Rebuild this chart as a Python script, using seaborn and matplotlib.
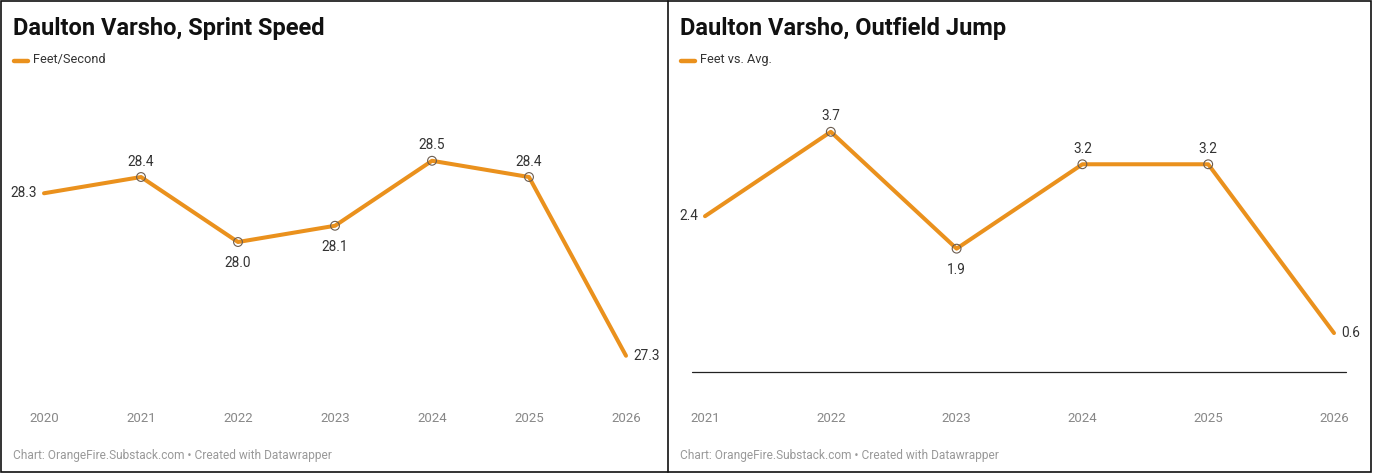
import matplotlib
matplotlib.use("Agg")
import matplotlib.pyplot as plt
import seaborn as sns
from matplotlib.patches import Rectangle
from matplotlib.lines import Line2D

# data
sprint_years = [2020, 2021, 2022, 2023, 2024, 2025, 2026]
sprint_speed = [28.3, 28.4, 28.0, 28.1, 28.5, 28.4, 27.3]

jump_years = [2021, 2022, 2023, 2024, 2025, 2026]
jump_feet = [2.4, 3.7, 1.9, 3.2, 3.2, 0.6]

titles = ["Daulton Varsho, Sprint Speed", "Daulton Varsho, Outfield Jump"]
legend_labels = ["Feet/Second", "Feet vs. Avg."]
footer = "Chart: OrangeFire.Substack.com \u2022 Created with Datawrapper"

ORANGE = "#EA911D"
W, H = 1373, 475

sns.set_style("white")
plt.rcParams["font.family"] = ["Roboto", "DejaVu Sans"]


def px_axes(fig, left, top, right, bottom):
    # axes placed by pixel edges
    return fig.add_axes([left / W, 1 - bottom / H, (right - left) / W, (bottom - top) / H])


def draw_panel(ax, years, values, ylim, label):
    sns.lineplot(x=years, y=values, ax=ax, color=ORANGE, linewidth=2.9,
                 solid_capstyle="round", label=label, legend=False)
    for ln in ax.lines:
        ln.set_clip_on(False)
    # hollow markers on inner points
    ax.scatter(years[1:-1], values[1:-1], s=40, facecolors="none",
               edgecolors="#6a5c50", linewidths=0.8, zorder=3, clip_on=False)
    ax.set_xlim(years[0], years[-1])
    ax.set_ylim(*ylim)
    ax.set_xticks(years)
    ax.set_xticklabels([str(y) for y in years])
    ax.set_yticks([])
    ax.tick_params(axis="x", length=0, pad=29, labelsize=9.5, labelcolor="#888888")
    for s in ax.spines.values():
        s.set_visible(False)
    ax.patch.set_alpha(0)

    n = len(values)
    kw = dict(textcoords="offset points", fontsize=9.8, color="#333333")
    for i, (x, v) in enumerate(zip(years, values)):
        txt = f"{v:.1f}"
        if i == 0:
            ax.annotate(txt, (x, v), xytext=(-5, 0), ha="right", va="center", **kw)
        elif i == n - 1:
            ax.annotate(txt, (x, v), xytext=(5, 0), ha="left", va="center", **kw)
        else:
            mid = (values[i - 1] + values[i + 1]) / 2
            if v >= mid:
                ax.annotate(txt, (x, v), xytext=(0, 6), ha="center", va="bottom", **kw)
            else:
                ax.annotate(txt, (x, v), xytext=(0, -10), ha="center", va="top", **kw)


fig = plt.figure(figsize=(W / 100, H / 100), dpi=100)
fig.patch.set_facecolor("white")

ax1 = px_axes(fig, 44, 100, 626, 372)
draw_panel(ax1, sprint_years, sprint_speed, (27.2, 28.874), legend_labels[0])

ax2 = px_axes(fig, 705, 100, 1334, 372)
draw_panel(ax2, jump_years, jump_feet, (0, 4.19), legend_labels[1])
ax2.axhline(0, xmin=-0.021, xmax=1.019, color="#222222", linewidth=0.9,
            clip_on=False, zorder=1)

# titles, legends, footers
for x0, title, lab in [(13, titles[0], legend_labels[0]), (680, titles[1], legend_labels[1])]:
    fig.text(x0 / W, 1 - 28 / H, title, fontsize=17, fontweight="bold",
             color="#111111", ha="left", va="center")
    fig.add_artist(Line2D([(x0 + 1) / W, (x0 + 15) / W], [1 - 61 / H, 1 - 61 / H],
                          color=ORANGE, linewidth=3.2, solid_capstyle="round"))
    fig.text((x0 + 20) / W, 1 - 60 / H, lab, fontsize=9.2, color="#333333",
             ha="left", va="center")
    fig.text(x0 / W, 1 - 455 / H, footer, fontsize=8.6, color="#999999",
             ha="left", va="center")

# outer frame and divider
fig.add_artist(Rectangle((1 / W, 3 / H), 1370 / W, 471 / H, fill=False,
                         edgecolor="#111111", linewidth=1.2, transform=fig.transFigure))
fig.add_artist(Line2D([668 / W, 668 / W], [3 / H, 1 - 1 / H], color="#111111",
                      linewidth=1.2))

fig.savefig("out.png", dpi=100)
